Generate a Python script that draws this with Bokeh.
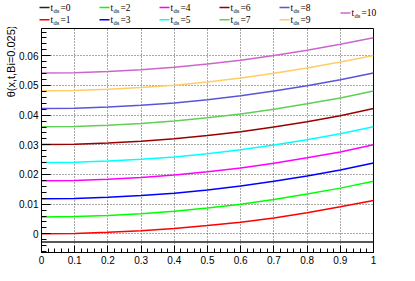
from bokeh.plotting import figure
from bokeh.layouts import column, row
from bokeh.models import Range1d, FixedTicker, Title
from bokeh.embed import file_html
from bokeh.resources import INLINE

# ---------------- data ----------------
x_ds = [0.0, 0.1, 0.2, 0.3, 0.4, 0.5, 0.6, 0.7, 0.8, 0.9, 1.0]
theta_t0 = [-0.0028, -0.0028, -0.0028, -0.0028, -0.0028, -0.0028, -0.0028, -0.0028, -0.0028, -0.0028, -0.0028]
theta_t1 = [0.0000, 0.0001, 0.0005, 0.0010, 0.0018, 0.0028, 0.0039, 0.0053, 0.0071, 0.0091, 0.0112]
theta_t2 = [0.0057, 0.0058, 0.0062, 0.0068, 0.0076, 0.0087, 0.0100, 0.0116, 0.0134, 0.0154, 0.0177]
theta_t3 = [0.0118, 0.0119, 0.0123, 0.0129, 0.0137, 0.0148, 0.0161, 0.0177, 0.0195, 0.0215, 0.0239]
theta_t4 = [0.0179, 0.0180, 0.0184, 0.0190, 0.0198, 0.0209, 0.0222, 0.0238, 0.0256, 0.0276, 0.0300]
theta_t5 = [0.0240, 0.0241, 0.0245, 0.0251, 0.0259, 0.0270, 0.0283, 0.0299, 0.0317, 0.0337, 0.0361]
theta_t6 = [0.0301, 0.0302, 0.0306, 0.0312, 0.0320, 0.0331, 0.0344, 0.0360, 0.0378, 0.0398, 0.0422]
theta_t7 = [0.0361, 0.0362, 0.0366, 0.0372, 0.0380, 0.0391, 0.0404, 0.0420, 0.0438, 0.0458, 0.0481]
theta_t8 = [0.0422, 0.0423, 0.0427, 0.0433, 0.0441, 0.0452, 0.0465, 0.0481, 0.0499, 0.0519, 0.0542]
theta_t9 = [0.0482, 0.0483, 0.0487, 0.0493, 0.0501, 0.0512, 0.0525, 0.0541, 0.0559, 0.0579, 0.0601]
theta_t10 = [0.0542, 0.0543, 0.0547, 0.0553, 0.0561, 0.0572, 0.0585, 0.0601, 0.0619, 0.0639, 0.0661]

series = [theta_t0, theta_t1, theta_t2, theta_t3, theta_t4, theta_t5,
          theta_t6, theta_t7, theta_t8, theta_t9, theta_t10]
t_labels = ["0", "1", "2", "3", "4", "5", "6", "7", "8", "9", "10"]
colors = ["#222222", "#ff0000", "#00ff00", "#0000ff", "#ff00ff", "#00ffff",
          "#990000", "#5fcf55", "#5954d9", "#ffcc66", "#cc66cc"]

x_major = [0.0, 0.1, 0.2, 0.3, 0.4, 0.5, 0.6, 0.7, 0.8, 0.9, 1.0]
x_major_labels = ["0", "0.1", "0.2", "0.3", "0.4", "0.5", "0.6", "0.7", "0.8", "0.9", "1"]
y_major = [0.0, 0.01, 0.02, 0.03, 0.04, 0.05, 0.06]
y_major_labels = ["0", "0.01", "0.02", "0.03", "0.04", "0.05", "0.06"]

FONT = "Liberation Sans"


def strip(w, h, x0, y0):
    """A bare figure: data x = page pixel x, data y = minus page pixel y."""
    f = figure(width=w, height=h, x_range=Range1d(x0, x0 + w), y_range=Range1d(-(y0 + h), -y0),
               output_backend="svg", toolbar_location=None, min_border=0,
               x_axis_location=None, y_axis_location=None)
    f.outline_line_color = None
    f.grid.visible = False
    return f


# ---------------- legend strip ----------------
leg = strip(415, 27, 0, 0)
col_x = [39, 99, 159, 219, 279]
row_y = [7.0, 19.3]
pos = []
for i in range(10):
    pos.append((col_x[i // 2], row_y[i % 2]))
pos.append((340, 12.5))

for i, (x0, y0) in enumerate(pos):
    leg.segment(x0=[x0], y0=[-y0], x1=[x0 + 10], y1=[-y0], line_color=colors[i], line_width=1.5)
    leg.text(x=[x0 + 11], y=[-y0], text=["t"], text_font=FONT, text_font_size="9.5px",
             text_baseline="middle", text_align="left", text_color="black")
    leg.text(x=[x0 + 14], y=[-(y0 + 2.5)], text=["ds"], text_font=FONT, text_font_size="6.5px",
             text_baseline="middle", text_align="left", text_color="black")
    leg.text(x=[x0 + 21], y=[-y0], text=["=" + t_labels[i]], text_font=FONT, text_font_size="9.5px",
             text_baseline="middle", text_align="left", text_color="black")

# ---------------- main plot ----------------
p = figure(width=415, height=246, x_range=Range1d(0, 1), y_range=Range1d(-0.0063, 0.0692),
           min_border_left=41, min_border_right=42, min_border_top=1, min_border_bottom=21,
           output_backend="svg", toolbar_location=None)
p.outline_line_color = "black"
p.outline_line_width = 1

p.xaxis.ticker = FixedTicker(ticks=x_major, minor_ticks=[i * 0.02 for i in range(51)])
p.yaxis.ticker = FixedTicker(ticks=y_major, minor_ticks=[-0.006 + i * 0.002 for i in range(38)])
p.xaxis.major_label_overrides = {v: s for v, s in zip(x_major, x_major_labels)}
p.yaxis.major_label_overrides = {v: s for v, s in zip(y_major, y_major_labels)}

for ax in (p.xaxis, p.yaxis):
    ax.major_label_text_font = FONT
    ax.major_label_text_font_size = "10px"
    ax.major_label_text_color = "black"
    ax.axis_line_color = "black"
    ax.major_tick_line_color = "black"
    ax.minor_tick_line_color = "black"
    ax.major_tick_out = 0
    ax.minor_tick_out = 0
    ax.major_label_standoff = 3
p.xaxis.major_tick_in = 7
p.xaxis.minor_tick_in = 4
p.yaxis.major_tick_in = 9
p.yaxis.minor_tick_in = 5

p.grid.grid_line_color = "#555555"
p.grid.grid_line_dash = "1 2"
p.grid.grid_line_width = 1

for i, ys in enumerate(series):
    p.line(x_ds, ys, line_color=colors[i], line_width=1.5)

# y title, aligned to the top end of the axis
p.add_layout(Title(text="θ(x,t,Bi=0.025)", align="right", text_font=FONT, text_font_size="11px",
                   text_font_style="normal", text_color="black", standoff=0, offset=-3), "left")

# ---------------- bottom strip: x title ----------------
bot = strip(415, 8, 0, 273)
bot.text(x=[358], y=[-278.5], text=["x"], text_font=FONT, text_font_size="11px",
         text_baseline="alphabetic", text_align="left", text_color="black")
bot.text(x=[363.5], y=[-280.8], text=["ds"], text_font=FONT, text_font_size="7px",
         text_baseline="alphabetic", text_align="left", text_color="black")

# each strip wrapped on its own so that its frame is not aligned with the main frame
layout = column(row(leg, spacing=0), p, row(bot, spacing=0), spacing=0)
open("out.html", "w").write(file_html(layout, INLINE))
